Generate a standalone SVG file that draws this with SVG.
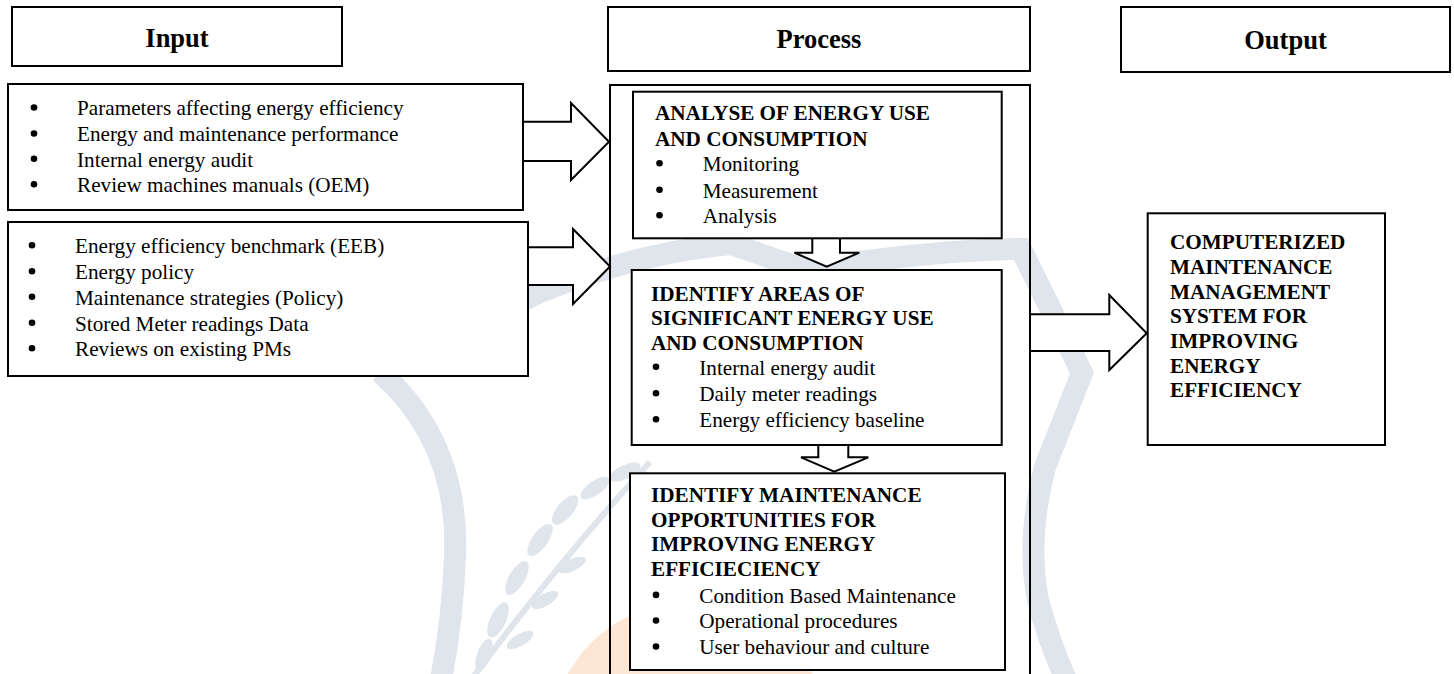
<svg xmlns="http://www.w3.org/2000/svg" width="1454" height="674" viewBox="0 0 1454 674">
<style>
.bg{fill:#ffffff}
.wm{fill:none;stroke:#dfe5ea;stroke-width:22;stroke-linejoin:miter}
.leaf{fill:#dfe5ea}
.sun{fill:#fde7d4}
.box{fill:#ffffff;stroke:#000;stroke-width:2}
.open{fill:none;stroke:#000;stroke-width:2}
.arr{fill:#ffffff;stroke:#000;stroke-width:2;stroke-linejoin:miter}
.dot{fill:#000}
.t{font-family:"Liberation Serif","Times New Roman",serif;font-size:21.2px;fill:#000}
.b{font-weight:bold}
.h{font-family:"Liberation Serif","Times New Roman",serif;font-size:26.5px;font-weight:bold;text-anchor:middle;fill:#000}
</style>
<rect class="bg" x="0" y="0" width="1454" height="674"/>

<g id="watermark">
  <circle class="sun" cx="690" cy="742" r="140"/>
  <path class="wm" d="M380 372 L540 292 Q640 252 731 244 L800 268 L860 262 Q950 250 1021 249 L1082 373 L1045 467 Q1026 540 1038 600 Q1048 640 1068 684"/>
  <path class="wm" d="M380 372 C432 418 458 480 455 555 C453 610 447 650 440 684"/>
  <path d="M468 684 Q560 560 650 462" fill="none" stroke="#dfe5ea" stroke-width="6"/>
  <ellipse class="leaf" cx="484" cy="655" rx="17" ry="7" transform="rotate(-70 484 655)"/>
  <ellipse class="leaf" cx="498" cy="620" rx="19" ry="8" transform="rotate(-65 498 620)"/>
  <ellipse class="leaf" cx="517" cy="578" rx="19" ry="8" transform="rotate(-60 517 578)"/>
  <ellipse class="leaf" cx="540" cy="540" rx="19" ry="8" transform="rotate(-55 540 540)"/>
  <ellipse class="leaf" cx="565" cy="510" rx="18" ry="8" transform="rotate(-50 565 510)"/>
  <ellipse class="leaf" cx="595" cy="488" rx="17" ry="7" transform="rotate(-35 595 488)"/>
  <ellipse class="leaf" cx="625" cy="472" rx="17" ry="7" transform="rotate(-25 625 472)"/>
  <ellipse class="leaf" cx="520" cy="640" rx="15" ry="6" transform="rotate(-30 520 640)"/>
  <ellipse class="leaf" cx="545" cy="600" rx="15" ry="6" transform="rotate(-30 545 600)"/>
  <ellipse class="leaf" cx="572" cy="565" rx="15" ry="6" transform="rotate(-25 572 565)"/>
</g>

<g id="connectors">
  <path class="arr" d="M523 121.7 H571 V103 L609 141.7 L571 180 V161 H523"/>
  <path class="arr" d="M528 247.3 H573 V229 L610 266.5 L573 304 V285 H528"/>
  <path class="arr" d="M812.3 238 V252.7 H794.3 L826.7 266.7 L859.3 252.7 H840 V238"/>
  <path class="arr" d="M818.3 445 V457.3 H801 L834.3 471.7 L868.3 457.3 H848.3 V445"/>
  <path class="arr" d="M1030 314.3 H1109.3 V295 L1146.7 333.3 L1109.3 370 V351 H1030"/>
</g>

<g id="header-input">
  <rect class="box" x="12" y="7" width="330" height="59"/>
  <text class="h" x="177" y="47">Input</text>
</g>
<g id="header-process">
  <rect class="box" x="608" y="7" width="422" height="64"/>
  <text class="h" x="819" y="48">Process</text>
</g>
<g id="header-output">
  <rect class="box" x="1121" y="7" width="329" height="65"/>
  <text class="h" x="1285.5" y="49">Output</text>
</g>

<g id="input-1">
  <rect class="box" x="8" y="84" width="515" height="126"/>
  <circle class="dot" cx="34" cy="107.5" r="3.3"/>
  <text class="t" x="77" y="115.3">Parameters affecting energy efficiency</text>
  <circle class="dot" cx="34" cy="133.5" r="3.3"/>
  <text class="t" x="77" y="141.3">Energy and maintenance performance</text>
  <circle class="dot" cx="34" cy="158.7" r="3.3"/>
  <text class="t" x="77" y="166.5">Internal energy audit</text>
  <circle class="dot" cx="34" cy="184.2" r="3.3"/>
  <text class="t" x="77" y="192">Review machines manuals (OEM)</text>
</g>

<g id="input-2">
  <rect class="box" x="8" y="222" width="520" height="154"/>
  <circle class="dot" cx="32" cy="245.2" r="3.3"/>
  <text class="t" x="75" y="253">Energy efficiency benchmark (EEB)</text>
  <circle class="dot" cx="32" cy="271.2" r="3.3"/>
  <text class="t" x="75" y="279">Energy policy</text>
  <circle class="dot" cx="32" cy="296.7" r="3.3"/>
  <text class="t" x="75" y="304.5">Maintenance strategies (Policy)</text>
  <circle class="dot" cx="32" cy="322.7" r="3.3"/>
  <text class="t" x="75" y="330.5">Stored Meter readings Data</text>
  <circle class="dot" cx="32" cy="348.2" r="3.3"/>
  <text class="t" x="75" y="356">Reviews on existing PMs</text>
</g>

<g id="process-frame">
  <path class="open" d="M610 690 V85 H1030 V690"/>
</g>

<g id="process-analyse">
  <rect class="box" x="633" y="91.7" width="368.7" height="146.6"/>
  <text class="t b" x="655" y="120">ANALYSE OF ENERGY USE</text>
  <text class="t b" x="655" y="146">AND CONSUMPTION</text>
  <circle class="dot" cx="659.5" cy="163.2" r="3.3"/>
  <text class="t" x="702.7" y="171">Monitoring</text>
  <circle class="dot" cx="659.5" cy="189.7" r="3.3"/>
  <text class="t" x="702.7" y="197.5">Measurement</text>
  <circle class="dot" cx="659.5" cy="215.2" r="3.3"/>
  <text class="t" x="702.7" y="223">Analysis</text>
</g>

<g id="process-identify-areas">
  <rect class="box" x="631.7" y="270" width="370" height="175"/>
  <text class="t b" x="651" y="300.5">IDENTIFY AREAS OF</text>
  <text class="t b" x="651" y="325">SIGNIFICANT ENERGY USE</text>
  <text class="t b" x="651" y="350">AND CONSUMPTION</text>
  <circle class="dot" cx="656" cy="366.7" r="3.3"/>
  <text class="t" x="699.3" y="374.5">Internal energy audit</text>
  <circle class="dot" cx="656" cy="393.2" r="3.3"/>
  <text class="t" x="699.3" y="401">Daily meter readings</text>
  <circle class="dot" cx="656" cy="419.2" r="3.3"/>
  <text class="t" x="699.3" y="427">Energy efficiency baseline</text>
</g>

<g id="process-identify-opportunities">
  <rect class="box" x="630" y="473.3" width="375" height="196.7"/>
  <text class="t b" x="651" y="501.7">IDENTIFY MAINTENANCE</text>
  <text class="t b" x="651" y="526.7">OPPORTUNITIES FOR</text>
  <text class="t b" x="651" y="551">IMPROVING ENERGY</text>
  <text class="t b" x="651" y="576">EFFICIECIENCY</text>
  <circle class="dot" cx="656" cy="594.9" r="3.3"/>
  <text class="t" x="699.3" y="602.7">Condition Based Maintenance</text>
  <circle class="dot" cx="656" cy="620.5" r="3.3"/>
  <text class="t" x="699.3" y="628.3">Operational procedures</text>
  <circle class="dot" cx="656" cy="646.5" r="3.3"/>
  <text class="t" x="699.3" y="654.3">User behaviour and culture</text>
</g>

<g id="output-cmms">
  <rect class="box" x="1147.7" y="213.3" width="237.3" height="231.7"/>
  <text class="t b" x="1170" y="249.3">COMPUTERIZED</text>
  <text class="t b" x="1170" y="274">MAINTENANCE</text>
  <text class="t b" x="1170" y="298.7">MANAGEMENT</text>
  <text class="t b" x="1170" y="323.3">SYSTEM FOR</text>
  <text class="t b" x="1170" y="348.3">IMPROVING</text>
  <text class="t b" x="1170" y="372.7">ENERGY</text>
  <text class="t b" x="1170" y="397.3">EFFICIENCY</text>
</g>
</svg>
